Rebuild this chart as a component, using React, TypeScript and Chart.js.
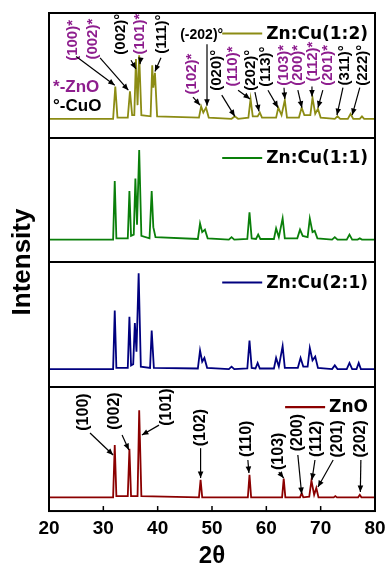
import React, { useEffect, useRef } from "react";
import { Chart, registerables } from "chart.js";

Chart.register(...registerables);

const SANS = "'Liberation Sans', Arial, sans-serif";
const WIDE = "'DejaVu Sans', sans-serif";

// ---- series (2θ in degrees, intensity in % of the panel height) ----
const seriesNames = ["ZnO", "Zn:Cu(2:1)", "Zn:Cu(1:1)", "Zn:Cu(1:2)"]; // bottom -> top
const seriesColors = ["#8b0000", "#00007f", "#0a7f0a", "#8c8c14"];
const xTickValues = [20, 30, 40, 50, 60, 70, 80];

const znoTwoTheta = [20, 31.8, 32.1, 32.4, 34.5, 34.8, 35.1, 36.3, 36.6, 37.0, 47.6, 47.9, 48.2, 56.6, 56.9, 57.2, 62.9, 63.2, 63.5, 66.2, 66.5, 66.8, 67.9, 68.3, 68.8, 69.2, 69.6, 72.4, 72.7, 73.0, 76.9, 77.2, 77.5, 80];
const znoIntensity = [11, 11, 53, 12, 12, 50, 12, 12, 81, 12, 11, 25, 11, 11, 29, 11, 11, 26, 11, 11, 14.5, 11, 11.5, 24.5, 13, 18.5, 11, 11, 12, 11, 11, 13, 11, 11];

const zncu21TwoTheta = [20, 31.8, 32.1, 32.4, 34.5, 34.8, 35.1, 35.5, 35.8, 36.1, 36.5, 36.9, 38.6, 38.9, 39.3, 47.4, 47.8, 48.2, 48.6, 49.1, 53.1, 53.6, 54.1, 56.5, 56.9, 57.3, 58.0, 58.4, 58.8, 61.4, 61.8, 62.3, 63.0, 63.4, 65.8, 66.3, 66.8, 67.6, 68.0, 68.5, 69.0, 69.5, 72.1, 72.6, 73.1, 74.8, 75.3, 75.8, 76.6, 77.0, 77.4, 80];
const zncu21Intensity = [14, 14, 61, 15, 15, 56, 17, 18, 51, 28, 91, 16, 15, 45, 15, 14.5, 29, 20, 23, 15, 14, 16, 14, 14.5, 37, 15, 14.5, 19, 14.5, 14.5, 23, 16, 32.5, 15, 15, 23, 16, 16, 31, 21, 24, 15, 14, 17, 14, 14, 19, 14, 14, 19, 14, 14];

const zncu11TwoTheta = [20, 31.8, 32.1, 32.4, 34.5, 34.8, 35.1, 35.6, 35.9, 36.2, 36.6, 37.0, 38.5, 38.9, 39.2, 39.6, 47.4, 47.8, 48.2, 48.7, 49.2, 53.1, 53.6, 54.1, 56.5, 56.9, 57.3, 58.1, 58.5, 58.9, 61.4, 61.8, 62.3, 63.0, 63.4, 65.7, 66.2, 66.7, 67.6, 68.0, 68.5, 68.9, 69.4, 72.1, 72.6, 73.1, 74.8, 75.3, 75.8, 76.8, 77.2, 77.6, 80];
const zncu11Intensity = [18, 18, 65, 19, 19, 57, 21, 22, 67, 30, 90, 21, 19, 57, 28, 20, 18.5, 31, 24, 26, 19, 18, 20, 18, 18.5, 40, 19, 18.5, 22, 18.5, 18.5, 27, 20, 35, 19, 19, 26, 21, 20, 35, 24, 25, 19, 18, 20, 18, 18, 22, 18, 18, 19, 18, 18];

const zncu12TwoTheta = [20, 31.8, 32.2, 32.6, 34.5, 34.9, 35.3, 35.7, 36.0, 36.3, 36.6, 37.0, 38.7, 39.0, 39.2, 39.5, 39.9, 47.6, 48.0, 48.4, 48.9, 49.4, 53.6, 54.2, 54.8, 56.7, 57.1, 57.5, 58.4, 58.8, 59.2, 61.8, 62.2, 62.8, 63.4, 63.8, 66.0, 66.5, 67.0, 68.1, 68.5, 69.0, 69.5, 70.0, 72.6, 73.1, 73.6, 75.0, 75.5, 76.0, 77.2, 77.6, 78.0, 80];
const zncu12Intensity = [15, 15, 41, 16, 16, 37, 18, 18, 63, 26, 66, 18, 17, 58, 40, 52, 17, 16, 25, 20, 24, 16, 15, 17, 15, 16, 31, 17, 17, 20, 16, 16, 24, 18, 30, 16, 16, 24, 18, 18, 32, 19, 23, 16, 15, 17, 15, 15, 19, 15, 15, 17, 15, 15];

// ---- peak tags: [text, isZnO, textX, textY, arrowFromX, arrowFromY, arrowToX, arrowToY] ----
type Tag = [string, boolean, number, number, number, number, number, number];

const zncu12Tags: Tag[] = [
  ["(100)*", true, 24.3, 78, 25.0, 65, 32.1, 42],
  ["(002)*", true, 28.1, 79, 29.4, 64, 34.6, 38],
  ["(002)°", false, 33.25, 83, 35.1, 62, 36.0, 55],
  ["(101)*", true, 36.75, 83, 36.9, 64, 36.75, 59],
  ["(111)°", false, 40.8, 83, 40.6, 64, 39.5, 53],
  ["(102)*", true, 46.3, 51, 46.5, 32.5, 47.8, 26],
  ["(020)°", false, 50.9, 54, 51.8, 34, 54.2, 17],
  ["(110)*", true, 53.9, 57, 54.8, 38, 57.0, 31],
  ["(202)°", false, 57.2, 54, 57.9, 36.5, 58.65, 21],
  ["(113)°", false, 59.9, 57, 60.3, 38, 62.15, 24],
  ["(103)*", true, 63.25, 58, 63.25, 40, 63.4, 31],
  ["(200)*", true, 65.8, 58, 65.8, 38, 66.55, 24],
  ["(112)*", true, 68.6, 61, 68.4, 41, 68.4, 33],
  ["(201)*", true, 71.35, 58, 70.4, 38, 69.5, 24],
  ["(311)°", false, 74.5, 58, 74.1, 40, 73.0, 18],
  ["(222)°", false, 77.8, 58, 77.2, 40, 75.8, 18],
];
// horizontal tag of the top panel: [text, textX, textY, arrowX, arrowFromY, arrowToY]
const zncu12FlatTag: [string, number, number, number, number, number] = ["(-202)°", 48.1, 82, 49.08, 75, 25.5];
const phaseKeyTexts = ["*-ZnO", "°-CuO"];
const phaseKeyPos = [[20.75, 40.5], [20.75, 25.3]];

const znoTags: Tag[] = [
  ["(100)", false, 26.3, 79.5, 27.55, 62.7, 31.8, 45],
  ["(002)", false, 32.15, 80.3, 33.45, 61, 34.7, 49],
  ["(101)", false, 41.7, 83.5, 40.25, 69, 37.1, 61],
  ["(102)", false, 47.9, 67, 47.9, 50.5, 47.9, 26.5],
  ["(110)", false, 56.45, 58, 56.6, 41, 56.8, 30.5],
  ["(103)", false, 62.3, 48, 62.3, 31.3, 63.2, 26.5],
  ["(200)", false, 65.8, 63, 65.8, 45, 66.5, 13.7],
  ["(112)", false, 69.3, 58, 68.95, 41, 68.4, 25],
  ["(201)", false, 73.2, 58, 72.3, 41, 69.5, 19.3],
  ["(202)", false, 77.4, 58, 77.4, 41, 77.3, 15.3],
];

const ZNO_TAG_COLOR = "#8e1e8e";

function toPoints(tt: number[], inten: number[], panel: number) {
  return tt.map((x, i) => ({ x, y: panel + inten[i] / 100 }));
}

function arrow(ctx: CanvasRenderingContext2D, x0: number, y0: number, x1: number, y1: number) {
  ctx.beginPath();
  ctx.moveTo(x0, y0);
  ctx.lineTo(x1, y1);
  ctx.stroke();
  const a = Math.atan2(y1 - y0, x1 - x0);
  const L = 6.5;
  const W = 2.8;
  ctx.beginPath();
  ctx.moveTo(x1, y1);
  ctx.lineTo(x1 - L * Math.cos(a) + W * Math.sin(a), y1 - L * Math.sin(a) - W * Math.cos(a));
  ctx.lineTo(x1 - L * Math.cos(a) - W * Math.sin(a), y1 - L * Math.sin(a) + W * Math.cos(a));
  ctx.closePath();
  ctx.fill();
}

const overlay = {
  id: "xrdOverlay",
  afterDatasetsDraw(chart: any) {
    const { ctx, chartArea: a, scales } = chart;
    const x = scales.x;
    const y = scales.y;
    ctx.save();

    const drawTags = (tags: Tag[], panel: number, size: number) => {
      ctx.lineWidth = 1.2;
      for (const t of tags) {
        const [text, isZnO, tx, ty, fx, fy, ex, ey] = t;
        const col = isZnO ? ZNO_TAG_COLOR : "#000";
        ctx.save();
        ctx.translate(x.getPixelForValue(tx), y.getPixelForValue(panel + ty / 100));
        ctx.rotate(-Math.PI / 2);
        ctx.fillStyle = col;
        ctx.font = `bold ${size}px ${SANS}`;
        ctx.textAlign = "center";
        ctx.textBaseline = "middle";
        ctx.fillText(text, 0, 0);
        ctx.restore();
        ctx.strokeStyle = "#000";
        ctx.fillStyle = "#000";
        arrow(
          ctx,
          x.getPixelForValue(fx),
          y.getPixelForValue(panel + fy / 100),
          x.getPixelForValue(ex),
          y.getPixelForValue(panel + ey / 100)
        );
      }
    };

    drawTags(zncu12Tags, 3, 15);
    drawTags(znoTags, 0, 16);

    // horizontal (-202)° tag
    {
      const [text, tx, ty, ax, ay0, ay1] = zncu12FlatTag;
      ctx.fillStyle = "#000";
      ctx.font = `bold 14px ${SANS}`;
      ctx.textAlign = "center";
      ctx.textBaseline = "middle";
      ctx.fillText(text, x.getPixelForValue(tx), y.getPixelForValue(3 + ty / 100));
      ctx.strokeStyle = "#000";
      ctx.lineWidth = 1.2;
      arrow(ctx, x.getPixelForValue(ax), y.getPixelForValue(3 + ay0 / 100), x.getPixelForValue(ax), y.getPixelForValue(3 + ay1 / 100));
    }

    // phase key
    ctx.font = `bold 17px ${SANS}`;
    ctx.textAlign = "left";
    ctx.textBaseline = "middle";
    phaseKeyTexts.forEach((t, i) => {
      ctx.fillStyle = i === 0 ? ZNO_TAG_COLOR : "#000";
      ctx.fillText(t, x.getPixelForValue(phaseKeyPos[i][0]), y.getPixelForValue(3 + phaseKeyPos[i][1] / 100));
    });

    // legends (one per panel)
    ctx.font = `bold 17px ${WIDE}`;
    seriesNames.forEach((name, p) => {
      const top = y.getPixelForValue(p + 1);
      const ly = top + 20.5;
      const right = a.right - 7;
      const w = ctx.measureText(name).width;
      ctx.fillStyle = "#000";
      ctx.textAlign = "right";
      ctx.fillText(name, right, ly + 1);
      ctx.strokeStyle = seriesColors[p];
      ctx.lineWidth = 2.2;
      ctx.beginPath();
      ctx.moveTo(right - w - 44, ly);
      ctx.lineTo(right - w - 4, ly);
      ctx.stroke();
    });

    // frame, panel separators and inner ticks
    ctx.strokeStyle = "#000";
    ctx.lineWidth = 2;
    ctx.strokeRect(a.left, a.top, a.right - a.left, a.bottom - a.top);
    for (let k = 1; k < 4; k++) {
      const py = Math.round(y.getPixelForValue(k));
      ctx.beginPath();
      ctx.moveTo(a.left, py);
      ctx.lineTo(a.right, py);
      ctx.stroke();
    }
    ctx.lineWidth = 1.5;
    for (const v of xTickValues) {
      if (v === 20 || v === 80) continue;
      const px = x.getPixelForValue(v);
      ctx.beginPath();
      ctx.moveTo(px, a.bottom);
      ctx.lineTo(px, a.bottom - 5);
      ctx.stroke();
    }
    ctx.restore();
  },
};

export default function App() {
  const ref = useRef<HTMLCanvasElement>(null);
  useEffect(() => {
    if (!ref.current) return;
    Chart.defaults.font.family = SANS;
    Chart.defaults.color = "#000";
    const pairs = [
      [znoTwoTheta, znoIntensity],
      [zncu21TwoTheta, zncu21Intensity],
      [zncu11TwoTheta, zncu11Intensity],
      [zncu12TwoTheta, zncu12Intensity],
    ];
    const chart = new Chart(ref.current, {
      type: "line",
      data: {
        datasets: pairs.map((pr, p) => ({
          label: seriesNames[p],
          data: toPoints(pr[0], pr[1], p),
          borderColor: seriesColors[p],
          borderWidth: 1.8,
          pointRadius: 0,
          tension: 0,
          fill: false,
        })),
      },
      options: {
        animation: false,
        responsive: false,
        devicePixelRatio: 1,
        layout: { padding: { left: 4, right: 13, top: 13, bottom: 0 } },
        plugins: { legend: { display: false }, tooltip: { enabled: false } },
        scales: {
          x: {
            type: "linear",
            min: 20,
            max: 80,
            afterBuildTicks: (s: any) => {
              s.ticks = xTickValues.map((v) => ({ value: v }));
            },
            ticks: {
              color: "#000",
              padding: 0,
              maxRotation: 0,
              font: { family: SANS, size: 19, weight: "bold", lineHeight: 1.84 },
            },
            grid: { display: false, drawTicks: false },
            border: { display: false },
            title: {
              display: true,
              text: "2θ",
              color: "#000",
              padding: 0,
              font: { family: SANS, size: 24, weight: "bold", lineHeight: 0.833 },
            },
          },
          y: {
            type: "linear",
            min: 0,
            max: 4,
            ticks: { display: false },
            grid: { display: false, drawTicks: false },
            border: { display: false },
            title: {
              display: true,
              text: "Intensity",
              color: "#000",
              padding: { top: 6, bottom: 13 },
              font: { family: SANS, size: 26, weight: "bold", lineHeight: 1 },
            },
          },
        },
      },
      plugins: [overlay],
    } as any);
    return () => chart.destroy();
  }, []);
  return (
    <div style={{ position: "absolute", left: 0, top: 0, width: 388, height: 566, background: "#fff" }}>
      <canvas ref={ref} width={388} height={566} style={{ display: "block" }} />
    </div>
  );
}
